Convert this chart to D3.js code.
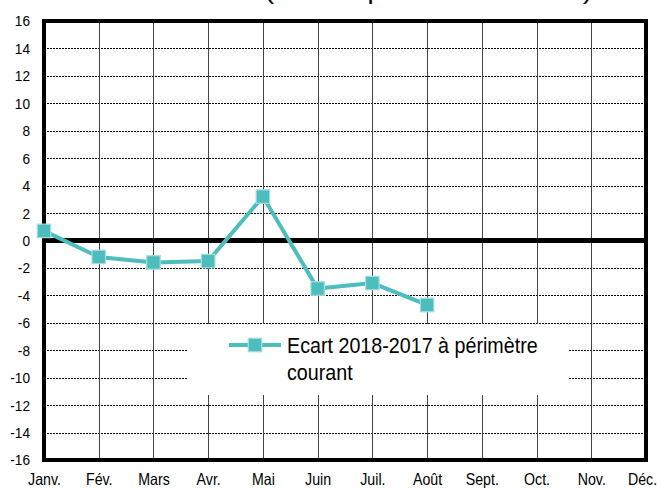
<!DOCTYPE html>
<html>
<head>
<meta charset="utf-8">
<script src="https://cdn.jsdelivr.net/npm/d3@7"></script>
<style>
  body { margin: 0; background: #fff; }
  svg text { font-family: "Liberation Sans", Arial, sans-serif; fill: #000; }
</style>
</head>
<body>
<svg id="chart" width="661" height="488"></svg>
<script>
// data
const months = ['Janv.', 'Fév.', 'Mars', 'Avr.', 'Mai', 'Juin', 'Juil.', 'Août', 'Sept.', 'Oct.', 'Nov.', 'Déc.'];
const ecart = [0.7, -1.2, -1.6, -1.5, 3.2, -3.5, -3.1, -4.7];
const yTicks = [16, 14, 12, 10, 8, 6, 4, 2, 0, -2, -4, -6, -8, -10, -12, -14, -16];
const seriesName = ['Ecart 2018-2017 à périmètre', 'courant'];
const titleText = '(en % à périmètre courant)';

const svg = d3.select('#chart');
const plotLeft = 44, plotRight = 646, plotTop = 21, plotBottom = 460;
const teal = '#4dbdbd';

const x = d3.scalePoint().domain(months).range([plotLeft, plotRight]);
const y = d3.scaleLinear().domain([-16, 16]).range([plotBottom, plotTop]);

// narrow look: squeeze text horizontally
function condense(sel, k) {
    sel.each(function () {
        const w = this.getComputedTextLength();
        d3.select(this)
            .attr('textLength', w * k)
            .attr('lengthAdjust', 'spacingAndGlyphs');
    });
}

// title is cut by the top edge, only descenders visible
svg.append('text')
    .attr('x', 265).attr('y', -1)
    .attr('textLength', 327)
    .attr('lengthAdjust', 'spacingAndGlyphs')
    .style('font-size', '22px')
    .text(titleText);

// horizontal dotted grid
svg.append('g')
    .selectAll('line')
    .data(yTicks.filter(d => d !== 0 && d !== 16 && d !== -16))
    .join('line')
    .attr('x1', plotLeft).attr('x2', plotRight)
    .attr('y1', d => Math.round(y(d)) + 0.5).attr('y2', d => Math.round(y(d)) + 0.5)
    .attr('stroke', '#000')
    .attr('stroke-width', 1)
    .attr('stroke-dasharray', '2,1');

// vertical grid
svg.append('g')
    .selectAll('line')
    .data(months.slice(1, -1))
    .join('line')
    .attr('x1', d => Math.round(x(d)) + 0.5).attr('x2', d => Math.round(x(d)) + 0.5)
    .attr('y1', plotTop).attr('y2', plotBottom)
    .attr('stroke', '#444')
    .attr('stroke-width', 1);

// frame
svg.append('rect')
    .attr('x', plotLeft).attr('y', plotTop)
    .attr('width', plotRight - plotLeft).attr('height', plotBottom - plotTop)
    .attr('fill', 'none')
    .attr('stroke', '#000')
    .attr('stroke-width', 4);

// zero line
svg.append('line')
    .attr('x1', plotLeft).attr('x2', plotRight)
    .attr('y1', y(0)).attr('y2', y(0))
    .attr('stroke', '#000')
    .attr('stroke-width', 5);

// y axis labels
const yAxis = d3.axisLeft(y).tickValues(yTicks).tickSize(0).tickPadding(14).tickFormat(d => String(d));
const gy = svg.append('g').attr('transform', `translate(${plotLeft},0)`).call(yAxis);
gy.select('.domain').remove();
gy.selectAll('text').style('font-size', '15.5px').style('font-family', null);
condense(gy.selectAll('text'), 0.88);

// x axis labels
const xAxis = d3.axisBottom(x).tickSize(0).tickPadding(13);
const gx = svg.append('g').attr('transform', `translate(0,${plotBottom})`).call(xAxis);
gx.select('.domain').remove();
gx.selectAll('text').style('font-size', '16.5px').style('font-family', null);
gx.selectAll('.tick').filter(d => d === 'Déc.').select('text').attr('dx', -4);
condense(gx.selectAll('text'), 0.86);

// series line
const line = d3.line()
    .x((d, i) => x(months[i]))
    .y(d => y(d));

svg.append('path')
    .datum(ecart)
    .attr('d', line)
    .attr('fill', 'none')
    .attr('stroke', teal)
    .attr('stroke-width', 4);

const ms = 13.5;
svg.append('g')
    .selectAll('rect')
    .data(ecart)
    .join('rect')
    .attr('x', (d, i) => x(months[i]) - ms / 2)
    .attr('y', d => y(d) - ms / 2)
    .attr('width', ms).attr('height', ms)
    .attr('fill', teal)
    .attr('stroke', '#a6dede')
    .attr('stroke-width', 1.2);

// legend
const lg = svg.append('g');
lg.append('rect')
    .attr('x', 188).attr('y', 324)
    .attr('width', 380).attr('height', 71)
    .attr('fill', '#fff');
lg.append('line')
    .attr('x1', 229).attr('x2', 281)
    .attr('y1', 345).attr('y2', 345)
    .attr('stroke', teal).attr('stroke-width', 4);
lg.append('rect')
    .attr('x', 255 - ms / 2).attr('y', 345 - ms / 2)
    .attr('width', ms).attr('height', ms)
    .attr('fill', teal)
    .attr('stroke', '#a6dede')
    .attr('stroke-width', 1.2);
const legText = lg.selectAll('text.leg')
    .data(seriesName)
    .join('text')
    .attr('class', 'leg')
    .attr('x', 287)
    .attr('y', (d, i) => 353 + i * 27)
    .style('font-size', '22px')
    .text(d => d);
condense(legText, 0.895);
</script>
</body>
</html>
